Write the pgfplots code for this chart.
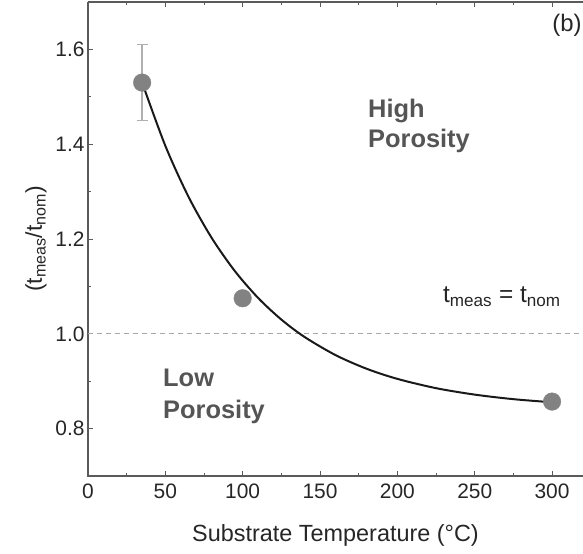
\documentclass[border=0pt]{standalone}
\usepackage{pgfplots}
\pgfplotsset{compat=1.18}
\usepackage{fontspec}
\setmainfont{Liberation Sans}
\definecolor{markgray}{HTML}{828282}
\definecolor{errgray}{HTML}{B0B0B0}
\definecolor{txtgray}{HTML}{555555}
\definecolor{dashgray}{HTML}{A8A8A8}
\definecolor{axgray}{HTML}{5A5A5A}
\begin{document}
\begin{tikzpicture}
\begin{axis}[
  scale only axis, width=495bp, height=474bp,
  xmin=0, xmax=320, ymin=0.7, ymax=1.7,
  xtick={0,50,100,150,200,250,300}, minor x tick num=1,
  ytick={0.8,1.0,1.2,1.4,1.6}, minor y tick num=1,
  yticklabel style={/pgf/number format/fixed, /pgf/number format/fixed zerofill, /pgf/number format/precision=1},
  /pgf/number format/assume math mode=true,
  tick label style={font=\fontsize{21}{25}\selectfont, text=black!85},
  xticklabel style={yshift=-4bp},
  label style={text=black!85},
  xlabel={Substrate Temperature (°C)},
  ylabel={(t\textsubscript{meas}/t\textsubscript{nom})},
  xlabel style={font=\fontsize{23.5}{27}\selectfont, yshift=-19bp},
  ylabel style={font=\fontsize{23}{27}\selectfont, yshift=2bp},
  axis line style={draw=none},
  xtick pos=both, ytick pos=left,
  tick align=inside,
  major tick length=5.5bp, minor tick length=3bp,
  tick style={axgray, line width=0.9pt},
  clip=false,
]
\draw[axgray, line width=1.3pt] (rel axis cs:0,1) -- (rel axis cs:0,0) -- (rel axis cs:1,0);
\draw[axgray, line width=1.3pt] (rel axis cs:0,1) -- (rel axis cs:1,1);
\addplot[dashgray, dashed, line width=1pt, dash pattern=on 5bp off 4bp, forget plot] coordinates {(0,1.0) (320,1.0)};
\addplot[only marks, mark=*, mark size=8.8bp, markgray, mark options={draw=markgray, fill=markgray},
  error bars/.cd, y dir=both, y explicit, error bar style={errgray, line width=1.3pt}, error mark options={rotate=90, mark size=5.5bp, errgray, line width=1.3pt}]
  coordinates {(35,1.53) +- (0,0.08)};
\addplot[only marks, mark=*, mark size=8.8bp, markgray, mark options={draw=markgray, fill=markgray}]
  coordinates {(100,1.075) (300,0.857)};
\addplot[black!90, line width=2pt, smooth] coordinates {
(35,1.530) (50,1.3966) (65,1.2889) (80,1.2021) (95,1.1321) (110,1.0756) (125,1.0300)
(140,0.9933) (160,0.9551) (180,0.9264) (200,0.9049) (225,0.8853) (250,0.8717) (275,0.8621) (300,0.8555)};
\node[anchor=base west, inner sep=0pt, font=\fontsize{25.5}{30}\selectfont\bfseries, text=txtgray] at (axis cs:181,1.457) {High};
\node[anchor=base west, inner sep=0pt, font=\fontsize{25.5}{30}\selectfont\bfseries, text=txtgray] at (axis cs:181,1.392) {Porosity};
\node[anchor=base west, inner sep=0pt, font=\fontsize{25.5}{30}\selectfont\bfseries, text=txtgray] at (axis cs:48.5,0.888) {Low};
\node[anchor=base west, inner sep=0pt, font=\fontsize{25.5}{30}\selectfont\bfseries, text=txtgray] at (axis cs:48.5,0.822) {Porosity};
\node[anchor=base west, font=\fontsize{24.5}{29}\selectfont, text=black!85, inner sep=0pt] at (axis cs:229.5,1.065) {t\textsubscript{meas} = t\textsubscript{nom}};
\node[anchor=base east, font=\fontsize{24}{28}\selectfont, text=black!85, inner sep=0pt] at (axis cs:319.2,1.637) {(b)};
\end{axis}
\pgfresetboundingbox
\path (current axis.south west) ++(-88bp,-78bp) coordinate (bbA);
\path (current axis.north east) ++(0bp,2bp) coordinate (bbB);
\path (bbA) rectangle (bbB);
\end{tikzpicture}
\end{document}
